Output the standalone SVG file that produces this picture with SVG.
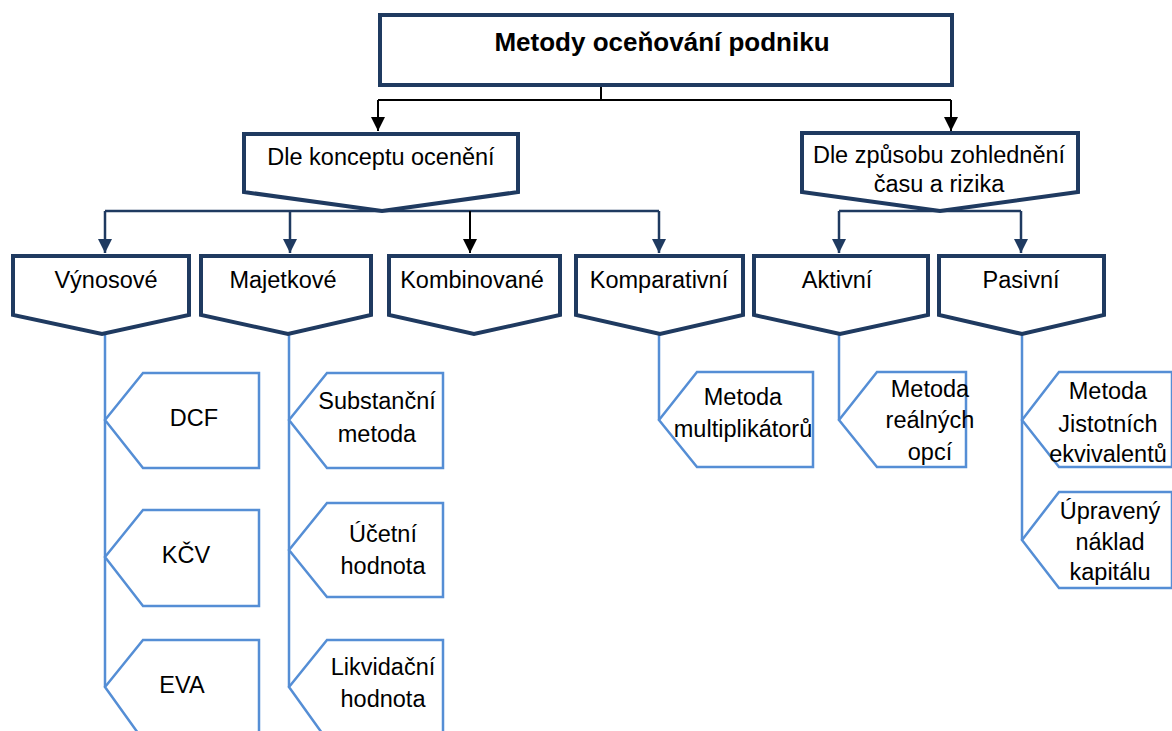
<svg xmlns="http://www.w3.org/2000/svg" width="1172" height="731" viewBox="0 0 1172 731">
  <defs>
    <marker id="arrow-navy" viewBox="0 0 14 14" refX="7" refY="14" markerWidth="14" markerHeight="14" markerUnits="userSpaceOnUse">
      <path d="M0,0 L14,0 L7,14 Z" fill="#1f3a60"/>
    </marker>
    <marker id="arrow-black" viewBox="0 0 14 14" refX="7" refY="14" markerWidth="14" markerHeight="14" markerUnits="userSpaceOnUse">
      <path d="M0,0 L14,0 L7,14 Z" fill="#000"/>
    </marker>
  </defs>
  <style>
    text { font-family: "Liberation Sans", Arial, sans-serif; font-size: 23.5px; fill: #000; text-anchor: middle; }
    .title { font-weight: bold; font-size: 26px; }
    .box { fill: #fff; stroke: #1f3a60; stroke-width: 4; stroke-linejoin: miter; }
    .leaf { fill: #fff; stroke: #558ed5; stroke-width: 2.5; }
    .link-black { fill: none; stroke: #000; stroke-width: 2; }
    .link-navy { fill: none; stroke: #1f3a60; stroke-width: 2.5; }
    .stem { fill: none; stroke: #558ed5; stroke-width: 2.5; }
  </style>

  <!-- connectors -->
  <g id="connectors">
    <path class="link-black" d="M601,85 V100"/>
    <path class="link-black" d="M378,100 H951"/>
    <path class="link-black" d="M378,100 V131" marker-end="url(#arrow-black)"/>
    <path class="link-black" d="M951,100 V131" marker-end="url(#arrow-black)"/>

    <path class="link-navy" d="M105,211 H659"/>
    <path class="link-navy" d="M105,211 V253" marker-end="url(#arrow-navy)"/>
    <path class="link-navy" d="M290,211 V253" marker-end="url(#arrow-navy)"/>
    <path class="link-black" d="M470,211 V253" marker-end="url(#arrow-black)"/>
    <path class="link-navy" d="M659,211 V253" marker-end="url(#arrow-navy)"/>

    <path class="link-navy" d="M839,211 H1021"/>
    <path class="link-navy" d="M839,211 V253" marker-end="url(#arrow-navy)"/>
    <path class="link-navy" d="M1021,211 V253" marker-end="url(#arrow-navy)"/>

    <path class="stem" d="M105,334 V687"/>
    <path class="stem" d="M289,334 V687"/>
    <path class="stem" d="M659,334 V420"/>
    <path class="stem" d="M839,334 V420"/>
    <path class="stem" d="M1022,334 V540"/>
  </g>

  <!-- root -->
  <g id="root">
    <rect class="box" x="380" y="15" width="572" height="70"/>
    <text class="title" x="662" y="51">Metody oceňování podniku</text>
  </g>

  <!-- second level -->
  <g id="by-concept">
    <path class="box" d="M244,134 H518 V192 L382,211 L244,192 Z"/>
    <text x="381" y="165">Dle konceptu ocenění</text>
  </g>
  <g id="by-time-risk">
    <path class="box" d="M802,133 H1078 V192 L940,211 L802,192 Z"/>
    <text x="939" y="163">Dle způsobu zohlednění</text>
    <text x="939" y="192">času a rizika</text>
  </g>

  <!-- third level -->
  <g id="vynosove">
    <path class="box" d="M13,256 H189 V315 L102,334 L13,315 Z"/>
    <text x="106" y="288">Výnosové</text>
  </g>
  <g id="majetkove">
    <path class="box" d="M201,256 H371 V315 L288,334 L201,315 Z"/>
    <text x="283" y="288">Majetkové</text>
  </g>
  <g id="kombinovane">
    <path class="box" d="M389,256 H560 V315 L474,334 L389,315 Z"/>
    <text x="472" y="288">Kombinované</text>
  </g>
  <g id="komparativni">
    <path class="box" d="M576,256 H743 V315 L660,334 L576,315 Z"/>
    <text x="659" y="288">Komparativní</text>
  </g>
  <g id="aktivni">
    <path class="box" d="M754,256 H928 V315 L840,334 L754,315 Z"/>
    <text x="837" y="288">Aktivní</text>
  </g>
  <g id="pasivni">
    <path class="box" d="M939,256 H1104 V315 L1022,334 L939,315 Z"/>
    <text x="1021" y="288">Pasivní</text>
  </g>

  <!-- leaves: income methods -->
  <g id="dcf">
    <path class="leaf" d="M105,420 L143,373 H259 V468 H143 Z"/>
    <text x="194" y="426">DCF</text>
  </g>
  <g id="kcv">
    <path class="leaf" d="M105,557 L143,510 H259 V606 H143 Z"/>
    <text x="186" y="563">KČV</text>
  </g>
  <g id="eva">
    <path class="leaf" d="M105,687 L143,640 H259 V740 H143 Z"/>
    <text x="182" y="693">EVA</text>
  </g>

  <!-- leaves: asset methods -->
  <g id="substancni">
    <path class="leaf" d="M289,420 L327,373 H443 V468 H327 Z"/>
    <text x="377" y="409">Substanční</text>
    <text x="377" y="442">metoda</text>
  </g>
  <g id="ucetni">
    <path class="leaf" d="M289,550 L327,503 H443 V597 H327 Z"/>
    <text x="383" y="542">Účetní</text>
    <text x="383" y="574">hodnota</text>
  </g>
  <g id="likvidacni">
    <path class="leaf" d="M289,687 L327,640 H443 V740 H327 Z"/>
    <text x="383" y="675">Likvidační</text>
    <text x="383" y="707">hodnota</text>
  </g>

  <!-- leaves: comparative / active / passive -->
  <g id="multiplikatory">
    <path class="leaf" d="M659,420 L697,372 H813 V467 H697 Z"/>
    <text x="743" y="405">Metoda</text>
    <text x="743" y="437">multiplikátorů</text>
  </g>
  <g id="realne-opce">
    <path class="leaf" d="M839,420 L877,372 H966 V467 H877 Z"/>
    <text x="930" y="397">Metoda</text>
    <text x="930" y="428">reálných</text>
    <text x="930" y="460">opcí</text>
  </g>
  <g id="jistotni-ekvivalenty">
    <path class="leaf" d="M1022,420 L1059,372 H1172 V467 H1059 Z"/>
    <text x="1108" y="399">Metoda</text>
    <text x="1108" y="432">Jistotních</text>
    <text x="1108" y="462">ekvivalentů</text>
  </g>
  <g id="upraveny-naklad">
    <path class="leaf" d="M1022,540 L1059,492 H1172 V588 H1059 Z"/>
    <text x="1110" y="519">Úpravený</text>
    <text x="1110" y="550">náklad</text>
    <text x="1110" y="580">kapitálu</text>
  </g>
</svg>
